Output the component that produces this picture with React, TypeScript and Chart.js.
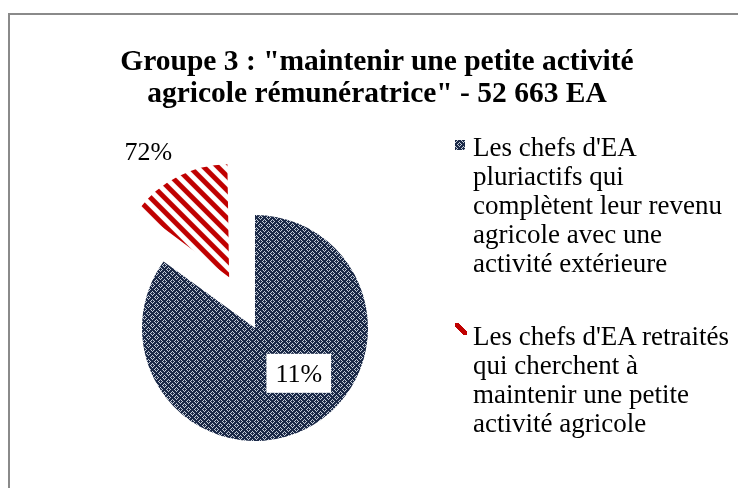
import React, { useEffect, useRef } from 'react';
import { Chart, registerables } from 'chart.js';

Chart.register(...registerables);

// ---- data ----
const TITLE_LINES = ['Groupe 3 : "maintenir une petite activité', 'agricole rémunératrice" - 52 663 EA'];
const CATEGORIES = [
  "Les chefs d'EA pluriactifs qui complètent leur revenu agricole avec une activité extérieure",
  "Les chefs d'EA retraités qui cherchent à maintenir une petite activité agricole",
];
const SHARES = [85, 15];
const SHARE_LABELS = ['11%', '72%'];

// ---- styles ----
const NAVY_DARK = '#1b2947';
const NAVY_LIGHT = '#c4ccd8';
const RED = '#c00000';
const FONT = '"Liberation Serif", "Times New Roman", serif';

function navyTile(): HTMLCanvasElement {
  const c = document.createElement('canvas');
  c.width = 8;
  c.height = 8;
  const g = c.getContext('2d')!;
  g.fillStyle = NAVY_DARK;
  g.fillRect(0, 0, 8, 8);
  g.fillStyle = NAVY_LIGHT;
  const pts = [[0, 0], [8, 0], [0, 8], [8, 8], [4, 4]];
  for (let y = 0; y < 8; y++) {
    for (let x = 0; x < 8; x++) {
      let d = 99;
      for (const [px, py] of pts) d = Math.min(d, Math.abs(x - px) + Math.abs(y - py));
      if (d === 2) g.fillRect(x, y, 1, 1);
    }
  }
  return c;
}

function redTile(): HTMLCanvasElement {
  const n = 14;
  const c = document.createElement('canvas');
  c.width = n;
  c.height = n;
  const g = c.getContext('2d')!;
  g.fillStyle = '#ffffff';
  g.fillRect(0, 0, n, n);
  g.fillStyle = RED;
  for (let y = 0; y < n; y++) {
    for (let x = 0; x < n; x++) {
      const k = (((x - y) % n) + n) % n;
      if (k < 7) g.fillRect(x, y, 1, 1);
    }
  }
  return c;
}

const radiusFix = {
  id: 'radiusFix',
  afterDatasetsUpdate(chart: any) {
    const meta = chart.getDatasetMeta(0);
    meta.data.forEach((arc: any) => {
      const off = ((arc.options && arc.options.offset) || 0) / 4;
      if (!off) return;
      const fix = 1 - Math.sin(Math.min(Math.PI, arc.circumference || 0));
      arc.outerRadius = arc.outerRadius - off * fix;
    });
  },
};

const shareLabels = {
  id: 'shareLabels',
  afterDatasetsDraw(chart: any, _args: any, opts: any) {
    const ctx = chart.ctx;
    const meta = chart.getDatasetMeta(0);
    meta.data.forEach((arc: any, i: number) => {
      const p = opts.placements[i];
      const a = (p.angle * Math.PI) / 180 - Math.PI / 2;
      const x = arc.x + Math.cos(a) * p.dist;
      const y = arc.y + Math.sin(a) * p.dist;
      ctx.save();
      ctx.font = '26px ' + FONT;
      const text = SHARE_LABELS[i];
      const w = ctx.measureText(text).width;
      if (p.box) {
        ctx.fillStyle = '#ffffff';
        ctx.fillRect(x - w / 2 - 9, y - 19.5, w + 18, 39);
      }
      ctx.fillStyle = '#000000';
      ctx.textAlign = 'center';
      ctx.textBaseline = 'alphabetic';
      ctx.fillText(text, x, y + 9);
      ctx.restore();
    });
  },
};

export default function App() {
  const canvasRef = useRef<HTMLCanvasElement>(null);
  const navyMarkRef = useRef<HTMLDivElement>(null);

  useEffect(() => {
    const canvas = canvasRef.current!;
    const ctx = canvas.getContext('2d')!;
    const nt = navyTile();
    const rt = redTile();
    const navyPat = ctx.createPattern(nt, 'repeat')!;
    const redPat = ctx.createPattern(rt, 'repeat')!;
    if (navyMarkRef.current) {
      navyMarkRef.current.style.backgroundImage = `url(${nt.toDataURL()})`;
    }
    const chart = new Chart(canvas, {
      type: 'pie',
      data: {
        labels: CATEGORIES,
        datasets: [
          {
            data: SHARES,
            backgroundColor: [navyPat, redPat] as any,
            borderWidth: 0,
            offset: [0, 228],
            radius: 113,
          } as any,
        ],
      },
      options: {
        responsive: false,
        animation: false,
        events: [],
        layout: { padding: { left: 97, right: 333, top: 165, bottom: 10 } },
        plugins: {
          legend: { display: false },
          title: { display: false },
          tooltip: { enabled: false },
          shareLabels: {
            placements: [
              { angle: 136, dist: 63, box: true },
              { angle: 329, dist: 207, box: false },
            ],
          },
        } as any,
      },
      plugins: [radiusFix, shareLabels],
    });
    return () => chart.destroy();
  }, []);

  const legendText: React.CSSProperties = {
    position: 'absolute',
    left: 465,
    width: 265,
    fontFamily: FONT,
    fontSize: 27,
    lineHeight: '29px',
    color: '#000',
  };

  return (
    <div
      style={{
        position: 'fixed',
        left: 8,
        top: 13,
        width: 730,
        height: 475,
        overflow: 'hidden',
        background: '#fff',
      }}
    >
      <div
        style={{
          position: 'absolute',
          left: 0,
          top: 0,
          width: 730,
          height: 475,
          borderTop: '2px solid #8a8a8a',
          borderLeft: '2px solid #8a8a8a',
          boxSizing: 'border-box',
        }}
      />
      <canvas
        ref={canvasRef}
        width={730}
        height={475}
        style={{ position: 'absolute', left: 0, top: 0, width: 730, height: 475 }}
      />
      <div
        style={{
          position: 'absolute',
          left: 0,
          top: 31,
          width: 738,
          textAlign: 'center',
          fontFamily: FONT,
          fontWeight: 'bold',
          fontSize: 29.5,
          lineHeight: '32px',
          color: '#000',
        }}
      >
        {TITLE_LINES.map((l, i) => (
          <div key={i}>{l}</div>
        ))}
      </div>
      <div
        ref={navyMarkRef}
        style={{ position: 'absolute', left: 447, top: 127, width: 10, height: 10, backgroundColor: NAVY_DARK }}
      />
      <div style={{ ...legendText, top: 119.5 }}>{CATEGORIES[0]}</div>
      <div
        style={{
          position: 'absolute',
          left: 447,
          top: 310,
          width: 12,
          height: 12,
          background: `linear-gradient(to top right, transparent 34%, ${RED} 34%, ${RED} 66%, transparent 66%)`,
        }}
      />
      <div style={{ ...legendText, top: 308.5 }}>{CATEGORIES[1]}</div>
    </div>
  );
}
